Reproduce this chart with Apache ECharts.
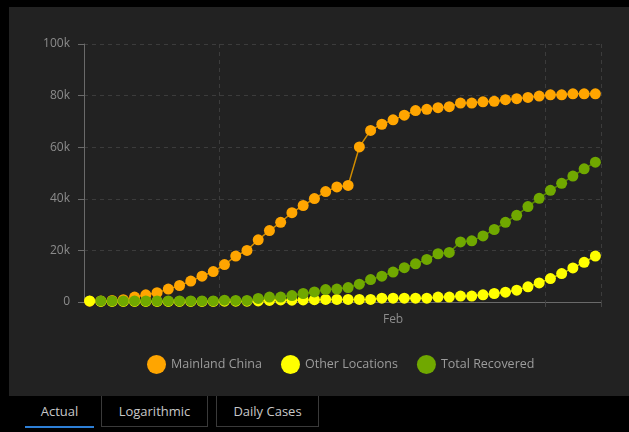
<!DOCTYPE html>
<html>
<head>
<meta charset="utf-8">
<script src="https://cdn.jsdelivr.net/npm/echarts@6/dist/echarts.min.js"></script>
<style>
  html, body { margin:0; padding:0; background:#000; width:629px; height:432px; overflow:hidden; font-family:"Open Sans","Noto Sans",sans-serif; }
  #panel { position:absolute; left:9px; top:7px; width:620px; height:389px; background:#222222; }
  #chart { position:absolute; left:0; top:0; width:629px; height:432px; }
  .tab { position:absolute; top:396px; height:31px; line-height:31px; text-align:center; font-size:13px; color:#c8c8c8; box-sizing:border-box; }
  #t1 { left:25px; width:69px; border-bottom:2px solid #2d7fd6; height:32px; }
  #t2 { left:101px; width:107px; border:1px solid #3a3a3a; border-top:none; }
  #t3 { left:216px; width:103px; border:1px solid #3a3a3a; border-top:none; }
</style>
</head>
<body>
<div id="panel"></div>
<div class="tab" id="t1">Actual</div>
<div class="tab" id="t2">Logarithmic</div>
<div class="tab" id="t3">Daily Cases</div>
<div id="chart"></div>
<script>
const categories = [
  "Jan 20","Jan 21","Jan 22","Jan 23","Jan 24","Jan 25","Jan 26","Jan 27","Jan 28","Jan 29","Jan 30","Jan 31",
  "Feb 1","Feb 2","Feb 3","Feb 4","Feb 5","Feb 6","Feb 7","Feb 8","Feb 9","Feb 10","Feb 11","Feb 12","Feb 13","Feb 14",
  "Feb 15","Feb 16","Feb 17","Feb 18","Feb 19","Feb 20","Feb 21","Feb 22","Feb 23","Feb 24","Feb 25","Feb 26","Feb 27",
  "Feb 28","Feb 29","Mar 1","Mar 2","Mar 3","Mar 4","Mar 5"
];
const mainlandChina = [
  300,400,600,900,1900,2800,3600,5000,6400,8100,10000,11800,
  14500,17800,20000,24100,27700,30900,34600,37400,40100,42800,44600,45200,60100,66500,
  68900,70600,72400,74200,74700,75300,75700,77100,77100,77600,77800,78400,78800,
  79300,79800,80300,80300,80700,80700,80700
];
const otherLocations = [
  400,200,200,200,200,200,200,200,200,200,200,200,
  300,300,300,400,600,800,700,800,900,1000,1000,1000,1000,1000,
  1500,1500,1500,1500,1500,1900,1900,2300,2300,2800,3300,3800,4600,
  5900,7400,9100,11000,13200,15400,17800
];
const totalRecovered = [
  null,400,400,400,400,400,400,400,400,400,400,400,
  700,600,600,1400,1900,1900,2500,3300,3900,4800,5000,5600,6900,8700,
  10000,11600,13300,14800,16500,18700,19200,23300,23700,25600,28100,30900,33600,
  37000,40200,43300,46000,48800,51600,54200
];
const yTicks = ["0","20k","40k","60k","80k","100k"];
const monthLabel = "Feb";

const monthStarts = [categories.indexOf("Feb 1"), categories.indexOf("Mar 1")];
const febMid = categories.indexOf("Feb 16");

const chart = echarts.init(document.getElementById('chart'), null, {renderer:'canvas'});
function mkSeries(name, data, color, lineColor) {
  return {
    name, type:'line', data,
    symbol:'circle', symbolSize:11, showAllSymbol:true,
    itemStyle:{ color, borderWidth:0 },
    lineStyle:{ color: lineColor, width:1.5 },
    emphasis:{ disabled:true },
    animation:false
  };
}
chart.setOption({
  backgroundColor:'transparent',
  animation:false,
  grid:{ left:84, right:28, top:44, bottom:130, containLabel:false },
  legend:{
    left:142, top:350, padding:5, itemWidth:19, itemHeight:19, itemGap:19,
    icon:'circle',
    textStyle:{ color:'#9c9c9c', fontSize:12.5, fontFamily:'"Open Sans","Noto Sans",sans-serif' },
    data:['Mainland China','Other Locations','Total Recovered']
  },
  xAxis:{
    type:'category', data:categories, boundaryGap:true,
    axisLine:{ lineStyle:{ color:'#6a6a6a', width:1 } },
    axisTick:{ show:true, length:5, interval:(i)=>monthStarts.includes(i), lineStyle:{ color:'#444' } },
    splitLine:{ show:true, interval:(i)=>monthStarts.includes(i), lineStyle:{ color:'#3c3c3c', type:[4,4] } },
    axisLabel:{ interval:(i)=>i===febMid, formatter:()=>monthLabel, color:'#8c8c8c', fontSize:12, margin:12,
      fontFamily:'"Open Sans","Noto Sans",sans-serif' }
  },
  yAxis:{
    type:'value', min:0, max:100000, interval:20000,
    axisLine:{ show:true, lineStyle:{ color:'#6a6a6a', width:1 } },
    axisTick:{ show:true, length:6, lineStyle:{ color:'#6a6a6a' } },
    splitLine:{ show:true, lineStyle:{ color:'#3c3c3c', type:[4,4] } },
    axisLabel:{ margin:14, color:'#8c8c8c', fontSize:12, fontFamily:'"Open Sans","Noto Sans",sans-serif',
      formatter:(v)=>yTicks[Math.round(v/20000)] }
  },
  series:[
    mkSeries('Mainland China', mainlandChina, '#ffa500', '#d08c00'),
    mkSeries('Other Locations', otherLocations, '#ffff00', '#c8c800'),
    mkSeries('Total Recovered', totalRecovered, '#70a800', '#5a8a00')
  ]
});
</script>
</body>
</html>
